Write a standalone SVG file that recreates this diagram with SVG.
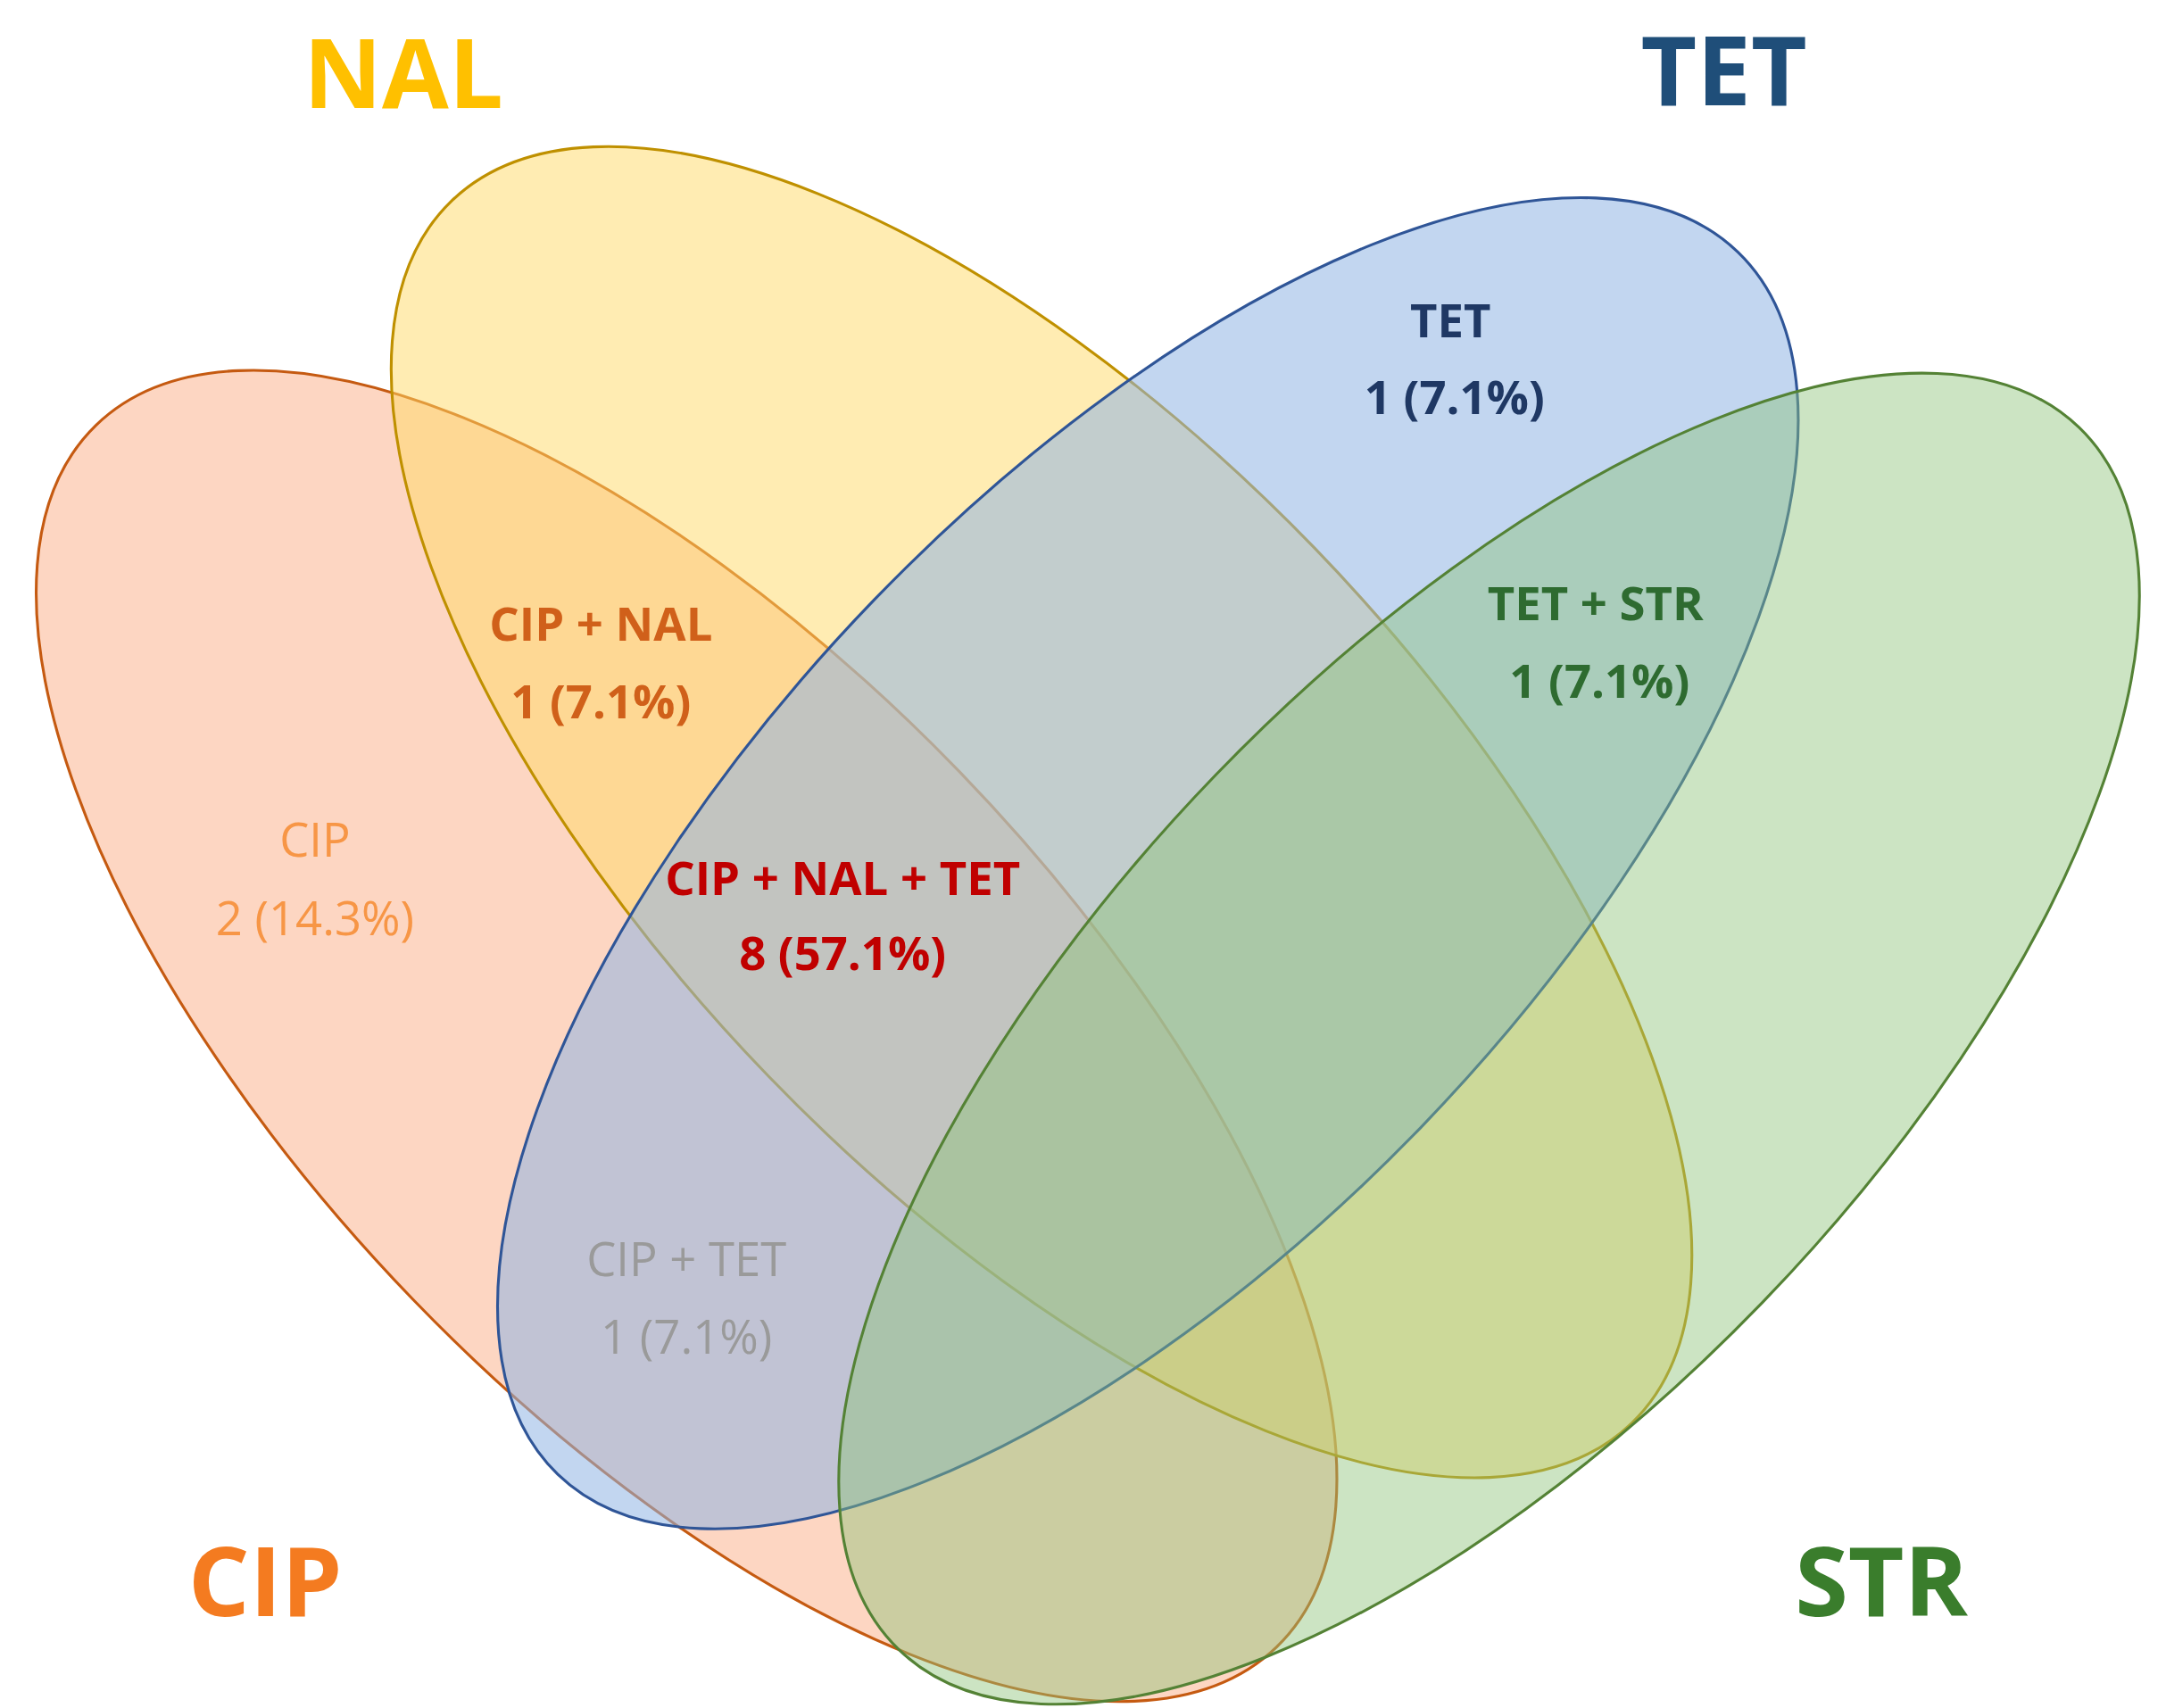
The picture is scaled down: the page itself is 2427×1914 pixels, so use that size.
<svg xmlns="http://www.w3.org/2000/svg" width="2427" height="1914" viewBox="0 0 2427 1914">
<style>
.e{stroke-width:2}
.t{font-family:"Open Sans","Liberation Sans",sans-serif;font-size:34px;text-anchor:middle;font-weight:bold}
.n{font-weight:normal}
.h{font-family:"Open Sans","Liberation Sans",sans-serif;font-size:70px;font-weight:bold;text-anchor:middle}
</style>
<rect width="2427" height="1914" fill="#fff"/>
<g transform="scale(1.5478)">
<g id="cip"><ellipse class="e" cx="497" cy="750" rx="615" ry="275" transform="rotate(46 497 750)" fill="#fbb58f" fill-opacity="0.55" stroke="#c55a11"/></g>
<g id="nal"><ellipse class="e" cx="754" cy="588" rx="615" ry="275" transform="rotate(46 754 588)" fill="#ffd966" fill-opacity="0.5" stroke="#bf9000"/></g>
<g id="tet"><ellipse class="e" cx="831" cy="625" rx="615" ry="275" transform="rotate(-46 831 625)" fill="#8fb4e3" fill-opacity="0.55" stroke="#2f5597"/></g>
<g id="str"><ellipse class="e" cx="1078" cy="752" rx="615" ry="275" transform="rotate(-46 1078 752)" fill="#8dc47a" fill-opacity="0.45" stroke="#548235"/></g>
<g id="titles">
<text class="h" x="292" y="78" fill="#ffc000">NAL</text>
<text class="h" x="1248" y="76" fill="#1f4e79">TET</text>
<text class="h" x="192" y="1170" fill="#f47b20">CIP</text>
<text class="h" x="1362" y="1170" fill="#3a7d2c">STR</text>
</g>
<g id="labels">
<text class="t" x="1050" y="244" fill="#1f3864">TET</text>
<text class="t" x="1053" y="300" fill="#1f3864">1 (7.1%)</text>
<text class="t" x="1155" y="449" fill="#2e6b30">TET + STR</text>
<text class="t" x="1158" y="505" fill="#2e6b30">1 (7.1%)</text>
<text class="t" x="435" y="464" fill="#d0601a">CIP + NAL</text>
<text class="t" x="435" y="520" fill="#d0601a">1 (7.1%)</text>
<text class="t n" x="228" y="620" fill="#f79646">CIP</text>
<text class="t n" x="228" y="677" fill="#f79646">2 (14.3%)</text>
<text class="t" x="610" y="648" fill="#c00000">CIP + NAL + TET</text>
<text class="t" x="610" y="702" fill="#c00000">8 (57.1%)</text>
<text class="t n" x="497" y="924" fill="#9a9a9a">CIP + TET</text>
<text class="t n" x="497" y="980" fill="#9a9a9a">1 (7.1%)</text>
</g>
</g>
</svg>
